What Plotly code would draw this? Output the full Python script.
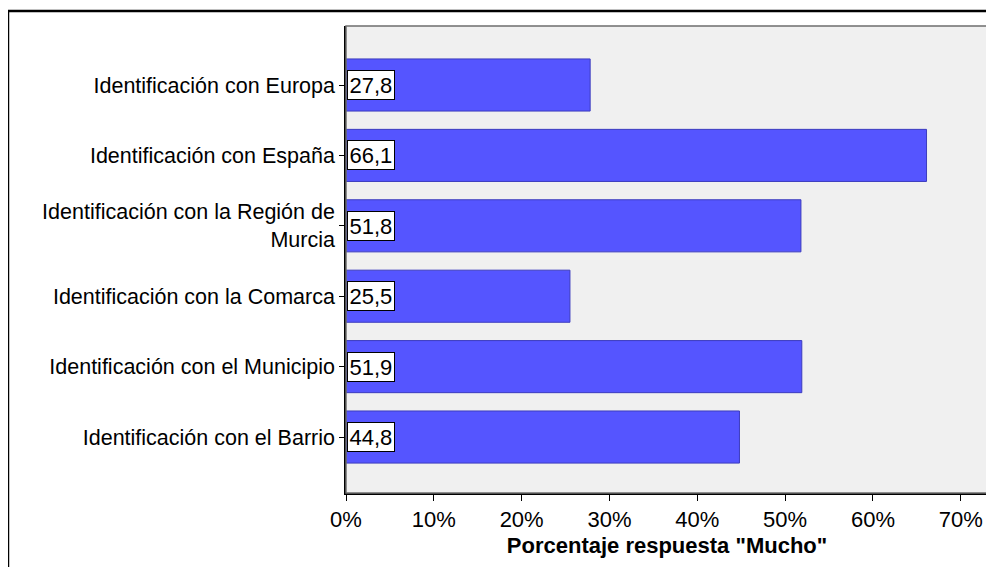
import plotly.graph_objects as go

categories = [
    "Identificación con Europa",
    "Identificación con España",
    "Identificación con la Región de<br>Murcia",
    "Identificación con la Comarca",
    "Identificación con el Municipio",
    "Identificación con el Barrio",
]
values = [27.8, 66.1, 51.8, 25.5, 51.9, 44.8]
x_ticks = [0, 10, 20, 30, 40, 50, 60, 70]

BAR_COLOR = "rgb(85,85,255)"
FONT = "Liberation Sans, Arial, sans-serif"

fig = go.Figure()
fig.add_trace(
    go.Bar(
        x=values,
        y=categories,
        orientation="h",
        width=0.74,
        marker=dict(color=BAR_COLOR, line=dict(color="rgb(60,60,190)", width=1)),
        hoverinfo="x+y",
    )
)

# value boxes at the base of each bar
for cat, val in zip(categories, values):
    fig.add_annotation(
        x=0,
        y=cat,
        xref="x",
        yref="y",
        xanchor="left",
        xshift=1,
        text=f"{val:.1f}".replace(".", ","),
        showarrow=False,
        font=dict(family=FONT, size=22, color="black"),
        bgcolor="white",
        bordercolor="black",
        borderwidth=1,
        borderpad=1.5,
    )

# grey frame around plot area + black outer frame
fig.add_shape(
    type="rect", xref="paper", yref="paper", x0=0, x1=1, y0=0, y1=1,
    line=dict(color="rgb(110,110,110)", width=1.5), layer="above",
)
fig.add_shape(
    type="rect", xref="paper", yref="paper", x0=-0.5265, x1=1.2, y0=-0.3, y1=1.0321,
    line=dict(color="black", width=2.5),
)

# the page body adds an 8px offset, so margins are shifted to compensate
fig.update_layout(
    width=994,
    height=567,
    margin=dict(l=338, r=14, t=18, b=82),
    paper_bgcolor="white",
    plot_bgcolor="rgb(240,240,240)",
    showlegend=False,
    font=dict(family=FONT, color="black"),
)
fig.update_xaxes(
    range=[0, 73.1],
    tickvals=x_ticks,
    ticktext=[f"{t}%" for t in x_ticks],
    tickfont=dict(size=22),
    ticks="outside",
    ticklen=6,
    tickcolor="black",
    showline=True,
    linecolor="black",
    linewidth=1.5,
    showgrid=False,
    zeroline=False,
    title=dict(text="<b>Porcentaje respuesta \"Mucho\"</b>", font=dict(size=22), standoff=6),
)
fig.update_yaxes(
    categoryorder="array",
    categoryarray=categories,
    range=[5.795, -0.838],
    tickfont=dict(size=21.5),
    ticks="outside",
    ticklen=5,
    tickcolor="black",
    showline=True,
    linecolor="black",
    linewidth=1.5,
    showgrid=False,
)

fig.write_html("out.html")
